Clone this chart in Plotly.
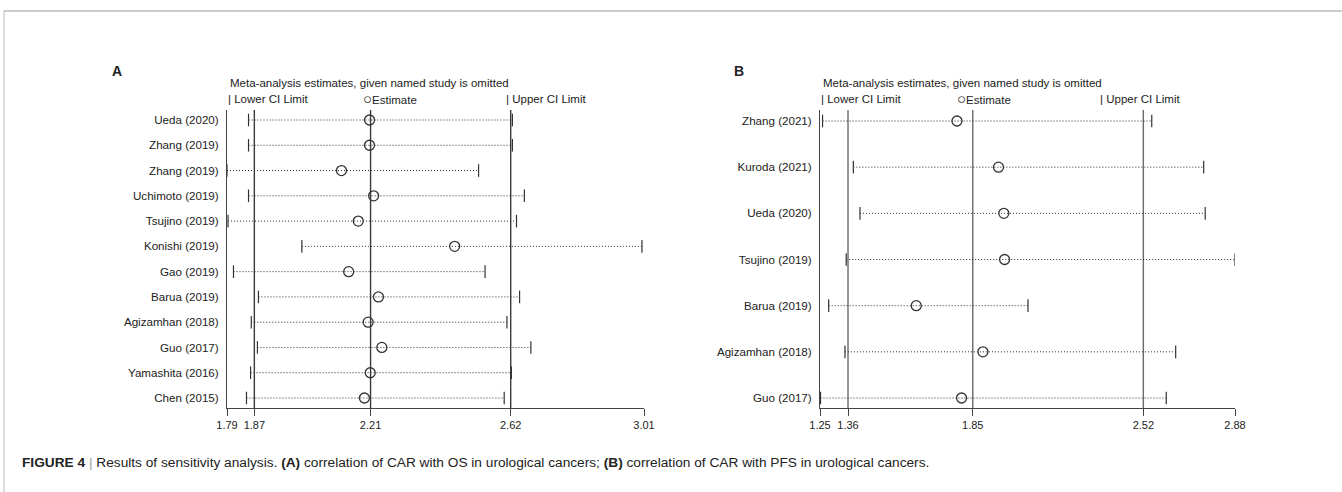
import plotly.graph_objects as go

W, H = 1342, 492

# ---------------- data ----------------
studies_a = ["Ueda (2020)", "Zhang (2019)", "Zhang (2019)", "Uchimoto (2019)", "Tsujino (2019)",
             "Konishi (2019)", "Gao (2019)", "Barua (2019)", "Agizamhan (2018)", "Guo (2017)",
             "Yamashita (2016)", "Chen (2015)"]
est_a = [2.207, 2.207, 2.125, 2.219, 2.174, 2.456, 2.146, 2.233, 2.203, 2.243, 2.209, 2.192]
lower_a = [1.853, 1.853, 1.790, 1.853, 1.793, 2.009, 1.809, 1.882, 1.861, 1.879, 1.859, 1.847]
upper_a = [2.625, 2.625, 2.526, 2.660, 2.637, 3.004, 2.545, 2.646, 2.609, 2.679, 2.622, 2.601]
ref_a = [1.87, 2.21, 2.62]
ticks_a = [1.79, 1.87, 2.21, 2.62, 3.01]

studies_b = ["Zhang (2021)", "Kuroda (2021)", "Ueda (2020)", "Tsujino (2019)", "Barua (2019)",
             "Agizamhan (2018)", "Guo (2017)"]
est_b = [1.788, 1.951, 1.972, 1.975, 1.628, 1.890, 1.806]
lower_b = [1.260, 1.381, 1.407, 1.353, 1.284, 1.348, 1.252]
upper_b = [2.553, 2.757, 2.763, 2.880, 2.067, 2.647, 2.610]
ref_b = [1.36, 1.85, 2.52]
ticks_b = [1.25, 1.36, 1.85, 2.52, 2.88]

FONT = "Liberation Sans, Arial, Helvetica, sans-serif"
TXT = "#222222"


def px(x):
    return x / W


def py(y):
    return 1 - y / H


fig = go.Figure()


def add_panel(studies, est, lower, upper, refs, ticks, xa, ya, xdom, ydom_px, row_top, row_bot, refcolor):
    n = len(studies)
    idx = list(range(n))
    xname = "x" if xa == 1 else f"x{xa}"
    yname = "y" if ya == 1 else f"y{ya}"
    # dotted CI lines
    for i in idx:
        fig.add_trace(go.Scatter(x=[lower[i], upper[i]], y=[i, i], mode="lines",
                                 line=dict(color="#2a2a2a", width=1, dash="1px,2px"),
                                 xaxis=xname, yaxis=yname, showlegend=False, hoverinfo="skip"))
    # caps
    fig.add_trace(go.Scatter(x=lower + upper, y=idx + idx, mode="markers",
                             marker=dict(symbol="line-ns", size=9, color="#333333",
                                         line=dict(color="#333333", width=1.2)),
                             xaxis=xname, yaxis=yname, showlegend=False, hoverinfo="skip"))
    # estimates
    fig.add_trace(go.Scatter(x=est, y=idx, mode="markers",
                             marker=dict(symbol="circle-open", size=10, color="#333333",
                                         line=dict(color="#333333", width=1.3)),
                             xaxis=xname, yaxis=yname, showlegend=False, hoverinfo="skip"))
    # pooled reference lines
    for r in refs:
        fig.add_shape(type="line", xref=xname, yref="paper", x0=r, x1=r,
                      y0=py(ydom_px[1]), y1=py(ydom_px[0]),
                      line=dict(color=refcolor, width=1.4), layer="below")
    step = (row_bot - row_top) / (n - 1)
    top_val = (ydom_px[0] - row_top) / step
    bot_val = (ydom_px[1] - row_top) / step
    xkey = "xaxis" if xa == 1 else f"xaxis{xa}"
    ykey = "yaxis" if ya == 1 else f"yaxis{ya}"
    fig.update_layout(**{
        xkey: dict(domain=[px(xdom[0]), px(xdom[1])], range=[ticks[0], ticks[-1]],
                   anchor=yname, showgrid=False, zeroline=False, showline=True, automargin=False,
                   linecolor="#444444", linewidth=1, ticks="outside", ticklen=7,
                   tickcolor="#444444", tickwidth=1, tickvals=ticks,
                   ticktext=[f"{t:.2f}" for t in ticks],
                   tickfont=dict(family=FONT, size=11, color=TXT)),
        ykey: dict(domain=[py(ydom_px[1]), py(ydom_px[0])], range=[bot_val, top_val],
                   anchor=xname, showgrid=False, zeroline=False, showline=True, automargin=False,
                   linecolor="#444444", linewidth=1, ticks="", tickvals=idx, ticktext=studies,
                   ticklabelstandoff=5,
                   tickfont=dict(family=FONT, size=11.6, color=TXT)),
    })


add_panel(studies_a, est_a, lower_a, upper_a, ref_a, ticks_a, 1, 1, (227, 644), (110, 408), 120, 398, "#3a3a3a")
add_panel(studies_b, est_b, lower_b, upper_b, ref_b, ticks_b, 2, 2, (820, 1235), (110, 408), 121, 398, "#6a6a6a")

ann = []


def text(x, y, s, size=12, bold=False, color=TXT, anchor="left"):
    ann.append(dict(x=px(x), y=py(y), xref="paper", yref="paper", text=(f"<b>{s}</b>" if bold else s),
                    showarrow=False, xanchor=anchor, yanchor="middle",
                    font=dict(family=FONT, size=size, color=color)))


# panel letters
text(110, 71, "A", size=14, bold=True)
text(732, 71, "B", size=14, bold=True)
# headers and legends
for x0, xe, xu in [(228, 361, 504), (821, 955, 1098)]:
    text(x0, 83, "Meta-analysis estimates, given named study is omitted", size=11.5)
    text(x0 - 2, 99, "| Lower CI Limit", size=11.5)
    text(xe, 98, "<span style='font-size:15px'>○</span>Estimate", size=11.5)
    text(xu, 99, "| Upper CI Limit", size=11.5)

# caption
text(20, 462, "<b>FIGURE 4</b> <span style='color:#9a9a9a'>|</span> Results of sensitivity analysis. "
     "<b>(A)</b> correlation of CAR with OS in urological cancers; "
     "<b>(B)</b> correlation of CAR with PFS in urological cancers.", size=13.7)

fig.update_layout(annotations=ann)

# frame
fig.add_shape(type="line", xref="paper", yref="paper", x0=px(4), x1=1, y0=py(11), y1=py(11),
              line=dict(color="#cccccc", width=2))
fig.add_shape(type="line", xref="paper", yref="paper", x0=px(4), x1=px(4), y0=py(11), y1=0,
              line=dict(color="#bbbbbb", width=1))

fig.update_layout(template="none", width=W, height=H, margin=dict(l=0, r=0, t=0, b=0),
                  paper_bgcolor="white", plot_bgcolor="white", showlegend=False)

fig.write_html("out.html")
